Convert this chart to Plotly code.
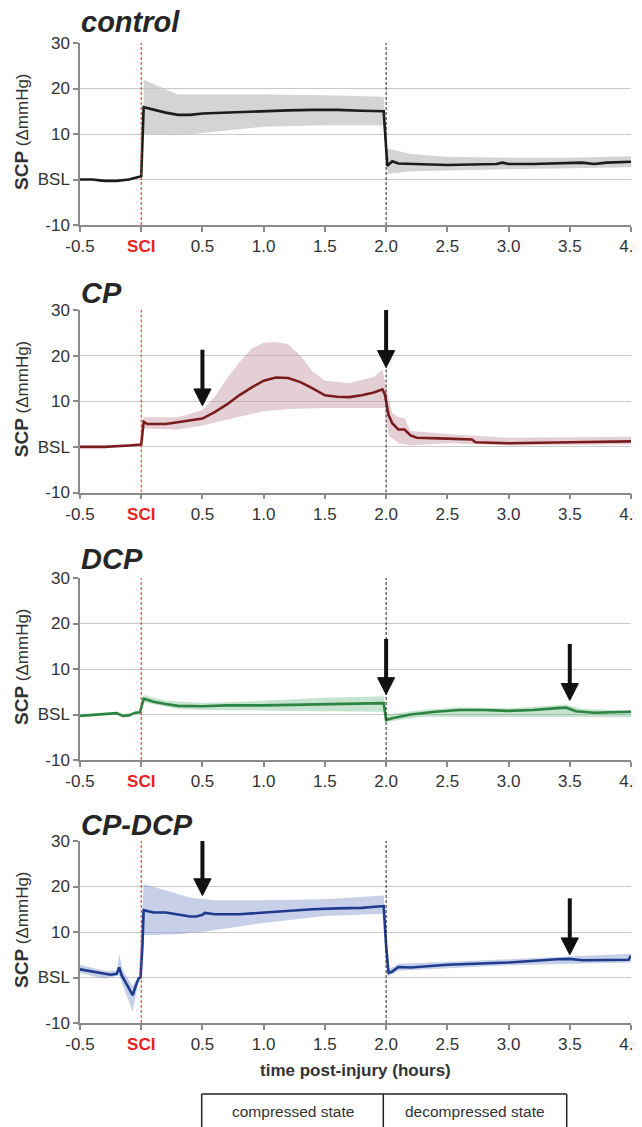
import plotly.graph_objects as go
from plotly.subplots import make_subplots

# ---------------- data ----------------
panel_titles = ["control", "CP", "DCP", "CP-DCP"]
x_tick_vals = [-0.5, 0, 0.5, 1.0, 1.5, 2.0, 2.5, 3.0, 3.5, 4.0]
x_tick_text = ["-0.5", "<b><span style='color:#e8231f'>SCI</span></b>", "0.5", "1.0", "1.5",
               "2.0", "2.5", "3.0", "3.5", "4.0"]
y_tick_vals = [-10, 0, 10, 20, 30]
y_tick_text = ["-10", "BSL", "10", "20", "30"]

# control
ctl_t = [-0.5, -0.4, -0.3, -0.2, -0.1, -0.03, 0.0, 0.02, 0.1, 0.2, 0.3, 0.4, 0.5, 0.6, 0.7, 0.8, 1.0,
         1.2, 1.4, 1.6, 1.8, 1.98, 2.01, 2.05, 2.1, 2.3, 2.5, 2.7, 2.9, 2.95, 3.0, 3.2, 3.4, 3.6, 3.7, 3.8, 4.0]
ctl_m = [0.0, 0.0, -0.3, -0.3, 0.0, 0.5, 0.7, 15.9, 15.3, 14.7, 14.2, 14.2, 14.5, 14.6, 14.8, 14.8, 15.0,
         15.2, 15.3, 15.3, 15.1, 15.0, 3.0, 4.0, 3.5, 3.3, 3.2, 3.3, 3.4, 3.7, 3.4, 3.4, 3.5, 3.7, 3.4, 3.7, 3.9]
ctl_hi_t = [0.02, 0.1, 0.2, 0.3, 0.5, 1.0, 1.5, 1.98, 2.01, 2.05, 2.2, 2.5, 3.0, 3.5, 4.0]
ctl_hi = [21.9, 21.0, 19.8, 18.7, 18.7, 18.7, 18.5, 18.2, 6.7, 6.6, 5.6, 5.0, 4.8, 4.8, 5.1]
ctl_lo_t = [0.02, 0.3, 0.5, 0.8, 1.0, 1.5, 1.98, 2.01, 2.2, 2.5, 3.0, 3.5, 4.0]
ctl_lo = [9.9, 9.7, 10.2, 11.0, 11.6, 11.9, 11.9, 1.2, 1.8, 2.0, 2.3, 2.5, 2.7]

# CP
cp_t = [-0.5, -0.3, -0.1, -0.02, 0.0, 0.02, 0.05, 0.2, 0.4, 0.5, 0.6, 0.7, 0.8, 0.9, 1.0, 1.1, 1.2, 1.3,
        1.4, 1.5, 1.6, 1.7, 1.8, 1.9, 1.97, 1.99, 2.02, 2.05, 2.1, 2.15, 2.2, 2.25, 2.5, 2.7, 2.73, 3.0,
        3.5, 4.0]
cp_m = [0.0, 0.0, 0.3, 0.5, 0.5, 5.5, 5.0, 5.0, 5.7, 6.2, 7.6, 9.3, 11.3, 13.0, 14.5, 15.2, 15.1, 14.2,
        12.8, 11.3, 11.0, 10.9, 11.3, 11.9, 12.6, 11.5, 7.0, 5.2, 3.8, 3.8, 2.5, 2.0, 1.8, 1.6, 1.0, 0.8,
        1.0, 1.2]
cp_hi_t = [0.0, 0.02, 0.3, 0.5, 0.6, 0.7, 0.8, 0.9, 1.0, 1.1, 1.2, 1.3, 1.4, 1.5, 1.7, 1.9, 1.97, 2.0,
           2.05, 2.1, 2.15, 2.2, 2.5, 3.0, 4.0]
cp_hi = [0.6, 6.5, 6.5, 8.0, 11.0, 15.0, 18.5, 21.5, 22.8, 23.0, 22.5, 20.0, 16.5, 14.5, 14.0, 15.3, 17.0,
         13.0, 7.5, 6.5, 6.3, 3.5, 2.8, 2.0, 2.2]
cp_lo_t = [0.0, 0.02, 0.3, 0.5, 0.7, 0.9, 1.0, 1.2, 1.5, 1.9, 1.99, 2.02, 2.1, 2.2, 2.5, 3.0, 4.0]
cp_lo = [0.4, 4.0, 3.8, 4.7, 6.0, 7.2, 7.8, 8.3, 8.5, 8.5, 8.5, 2.5, 0.8, 0.3, 0.8, 0.3, 0.5]

# DCP
dcp_t = [-0.5, -0.3, -0.2, -0.15, -0.1, -0.05, -0.01, 0.02, 0.1, 0.2, 0.3, 0.5, 0.7, 1.0, 1.5, 1.8, 1.98,
         2.0, 2.05, 2.2, 2.4, 2.6, 2.8, 3.0, 3.2, 3.4, 3.47, 3.55, 3.7, 4.0]
dcp_m = [-0.3, 0.2, 0.3, -0.3, -0.2, 0.4, 0.5, 3.5, 2.8, 2.3, 1.9, 1.8, 2.0, 2.0, 2.3, 2.4, 2.5,
         -1.2, -0.8, 0.0, 0.6, 1.0, 1.0, 0.8, 1.0, 1.4, 1.5, 0.7, 0.4, 0.6]
dcp_hi_t = [0.0, 0.02, 0.2, 0.5, 1.0, 1.5, 1.98, 2.0, 2.3, 2.6, 3.0, 3.47, 3.6, 4.0]
dcp_hi = [0.6, 4.3, 3.0, 2.5, 3.0, 3.7, 4.0, 0.0, 1.0, 1.6, 1.3, 2.2, 1.2, 0.9]
dcp_lo_t = [0.0, 0.02, 0.3, 0.5, 1.0, 1.5, 1.98, 2.0, 2.3, 2.5, 3.0, 3.5, 4.0]
dcp_lo = [0.4, 2.7, 1.2, 1.0, 0.8, 0.7, 0.6, -1.6, -0.5, -0.6, -0.6, -0.6, -0.6]

# CP-DCP
cpd_t = [-0.5, -0.4, -0.3, -0.25, -0.2, -0.18, -0.16, -0.14, -0.1, -0.07, -0.04, -0.02, -0.005, 0.01,
         0.02, 0.1, 0.2, 0.3, 0.4, 0.45, 0.5, 0.52, 0.6, 0.8, 1.0, 1.2, 1.4, 1.6, 1.8, 1.98, 2.0, 2.02,
         2.05, 2.1, 2.2, 2.5, 3.0, 3.4, 3.5, 3.6, 3.9, 3.98, 4.0]
cpd_m = [1.8, 1.3, 0.8, 0.6, 0.8, 2.2, 0.5, -0.5, -2.3, -3.9, -1.5, -0.2, 0.0, 7.0,
         14.8, 14.3, 14.3, 13.8, 13.4, 13.4, 13.8, 14.2, 13.9, 13.9, 14.3, 14.6, 15.0, 15.2, 15.3, 15.7,
         7.0, 1.0, 1.3, 2.3, 2.2, 2.8, 3.3, 4.0, 4.1, 3.8, 3.8, 3.9, 4.8]
cpd_hi_t = [-0.5, -0.3, -0.2, -0.18, -0.15, -0.07, -0.02, 0.02, 0.2, 0.4, 0.6, 1.0, 1.5, 1.98, 2.02,
            2.1, 3.0, 4.0]
cpd_hi = [2.8, 1.5, 1.5, 5.2, 1.5, -1.8, 0.3, 20.5, 19.2, 17.5, 17.0, 17.0, 17.2, 18.0, 1.8,
          3.0, 4.0, 5.2]
cpd_lo_t = [-0.5, -0.3, -0.18, -0.07, -0.02, 0.02, 0.3, 0.5, 1.0, 1.5, 1.98, 2.02, 2.1, 3.0, 4.0]
cpd_lo = [1.0, -0.3, 0.5, -7.5, -0.6, 9.3, 9.5, 10.0, 12.0, 13.5, 14.0, 0.3, 1.5, 2.7, 3.3]

# arrows: (panel, x, y_top, y_tip)
arrows = [(2, 0.5, 21.3, 9.0), (2, 2.0, 30.3, 17.4), (3, 2.0, 16.6, 4.4), (3, 3.5, 15.5, 3.1),
          (4, 0.5, 30.3, 18.0), (4, 3.5, 17.4, 5.0)]

series = [
    (ctl_t, ctl_m, ctl_hi_t, ctl_hi, ctl_lo_t, ctl_lo),
    (cp_t, cp_m, cp_hi_t, cp_hi, cp_lo_t, cp_lo),
    (dcp_t, dcp_m, dcp_hi_t, dcp_hi, dcp_lo_t, dcp_lo),
    (cpd_t, cpd_m, cpd_hi_t, cpd_hi, cpd_lo_t, cpd_lo),
]

# ---------------- styles ----------------
OFF = 8                      # page body margin
W, H = 642, 1127 - OFF
ML, MR = 72, 19
PW = W - ML - MR
line_colors = ["#1c1c1c", "#7a1b1e", "#2b8540", "#1f3b8e"]
band_colors = ["rgba(195,197,199,0.75)", "rgba(196,150,160,0.45)",
               "rgba(90,175,115,0.35)", "rgba(130,150,205,0.45)"]
# panel pixel extents on the page (top, bottom)
panel_px = [(43, 225), (310, 492.5), (578, 760), (841, 1023)]
title_px = [21, 291.5, 558.5, 823.5]
FONT = "Liberation Sans, Arial, sans-serif"
TXT = "#333333"
AX = "#8a8a8a"
GRID = "#c9c9c9"


def py(p):
    return 1 - (p - OFF) / H


def px(xp):
    return (xp - OFF - ML) / PW


fig = make_subplots(rows=4, cols=1)

for i, (tm, m, th, hi, tl, lo) in enumerate(series):
    r = i + 1
    fig.add_trace(go.Scatter(x=list(th) + list(tl)[::-1], y=list(hi) + list(lo)[::-1],
                             fill="toself", fillcolor=band_colors[i], line=dict(width=0),
                             mode="lines", hoverinfo="skip", showlegend=False), row=r, col=1)
    fig.add_trace(go.Scatter(x=tm, y=m, mode="lines", line=dict(color=line_colors[i], width=2.6),
                             showlegend=False), row=r, col=1)

layout_axes = {}
for i in range(4):
    top, bot = panel_px[i]
    xa = "xaxis" if i == 0 else f"xaxis{i+1}"
    ya = "yaxis" if i == 0 else f"yaxis{i+1}"
    layout_axes[xa] = dict(domain=[0, 1], range=[-0.5, 4.0], tickmode="array", tickvals=x_tick_vals,
                           ticktext=x_tick_text, showgrid=False, zeroline=False, showline=True,
                           linecolor=AX, linewidth=1.5, ticks="outside", ticklen=5, tickcolor=AX,
                           tickwidth=1.5, automargin=False, ticklabeloverflow="allow",
                           tickfont=dict(family=FONT, size=17, color=TXT))
    layout_axes[ya] = dict(domain=[py(bot), py(top)], range=[-10, 30], tickmode="array",
                           tickvals=y_tick_vals, ticktext=y_tick_text, showgrid=True, gridcolor=GRID,
                           gridwidth=1.3, zeroline=False, showline=True, linecolor=AX, linewidth=1.5,
                           ticks="outside", ticklen=5, tickcolor=AX, tickwidth=1.5, automargin=False,
                           ticklabeloverflow="allow",
                           tickfont=dict(family=FONT, size=17, color=TXT))
fig.update_layout(**layout_axes)

shapes = []
annotations = []
for i in range(4):
    xr = "x" if i == 0 else f"x{i+1}"
    yr = "y" if i == 0 else f"y{i+1}"
    shapes.append(dict(type="line", xref=xr, yref=yr, x0=0, x1=0, y0=-10, y1=30,
                       line=dict(color="#e8231f", width=1, dash="3px,2px")))
    shapes.append(dict(type="line", xref=xr, yref=yr, x0=2.0, x1=2.0, y0=-10, y1=30,
                       line=dict(color="#222222", width=1, dash="3px,2px")))
    top, bot = panel_px[i]
    annotations.append(dict(text=f"<b><i>{panel_titles[i]}</i></b>", xref="paper", yref="paper",
                            x=px(79), y=py(title_px[i] + 1), xanchor="left", yanchor="middle",
                            showarrow=False, font=dict(family=FONT, size=29, color="#262626")))
    annotations.append(dict(text="<b><span style='font-size:19px'>SCP</span></b> (ΔmmHg)",
                            xref="paper", yref="paper", x=px(21),
                            y=py((top + bot) / 2 - 2), xanchor="center", yanchor="middle",
                            textangle=-90, showarrow=False,
                            font=dict(family=FONT, size=17, color=TXT)))

head_h = 3.7
head_w = 0.07
for (p, x, ytop, ytip) in arrows:
    xr = "x" if p == 1 else f"x{p}"
    yr = "y" if p == 1 else f"y{p}"
    shapes.append(dict(type="line", xref=xr, yref=yr, x0=x, x1=x, y0=ytop, y1=ytip + head_h * 0.5,
                       line=dict(color="#111111", width=4)))
    shapes.append(dict(type="path", xref=xr, yref=yr,
                       path=f"M {x-head_w},{ytip+head_h} L {x+head_w},{ytip+head_h} L {x},{ytip} Z",
                       fillcolor="#111111", line=dict(color="#111111", width=1)))

# x-axis title
annotations.append(dict(text="<b>time post-injury (hours)</b>", xref="paper", yref="paper",
                        x=px(355.5), y=py(1070), xanchor="center", yanchor="middle", showarrow=False,
                        font=dict(family=FONT, size=17, color=TXT)))

# state boxes
bx_l, bx_m, bx_r, bx_t = px(201.7), px(383.3), px(566.7), py(1094)
for xv in (bx_l, bx_m, bx_r):
    shapes.append(dict(type="line", xref="paper", yref="paper", x0=xv, x1=xv, y0=bx_t, y1=-0.01,
                       line=dict(color="#222222", width=1.5)))
shapes.append(dict(type="line", xref="paper", yref="paper", x0=bx_l, x1=bx_r, y0=bx_t, y1=bx_t,
                   line=dict(color="#222222", width=1.5)))
annotations.append(dict(text="compressed state", xref="paper", yref="paper", x=(bx_l + bx_m) / 2,
                        y=py(1111.5), xanchor="center", yanchor="middle", showarrow=False,
                        font=dict(family=FONT, size=15.5, color=TXT)))
annotations.append(dict(text="decompressed state", xref="paper", yref="paper", x=(bx_m + bx_r) / 2,
                        y=py(1111.5), xanchor="center", yanchor="middle", showarrow=False,
                        font=dict(family=FONT, size=15.5, color=TXT)))

fig.update_layout(width=W, height=H, margin=dict(l=ML, r=MR, t=0, b=0),
                  paper_bgcolor="white", plot_bgcolor="white", showlegend=False,
                  shapes=shapes, annotations=annotations)

fig.write_html("out.html")
